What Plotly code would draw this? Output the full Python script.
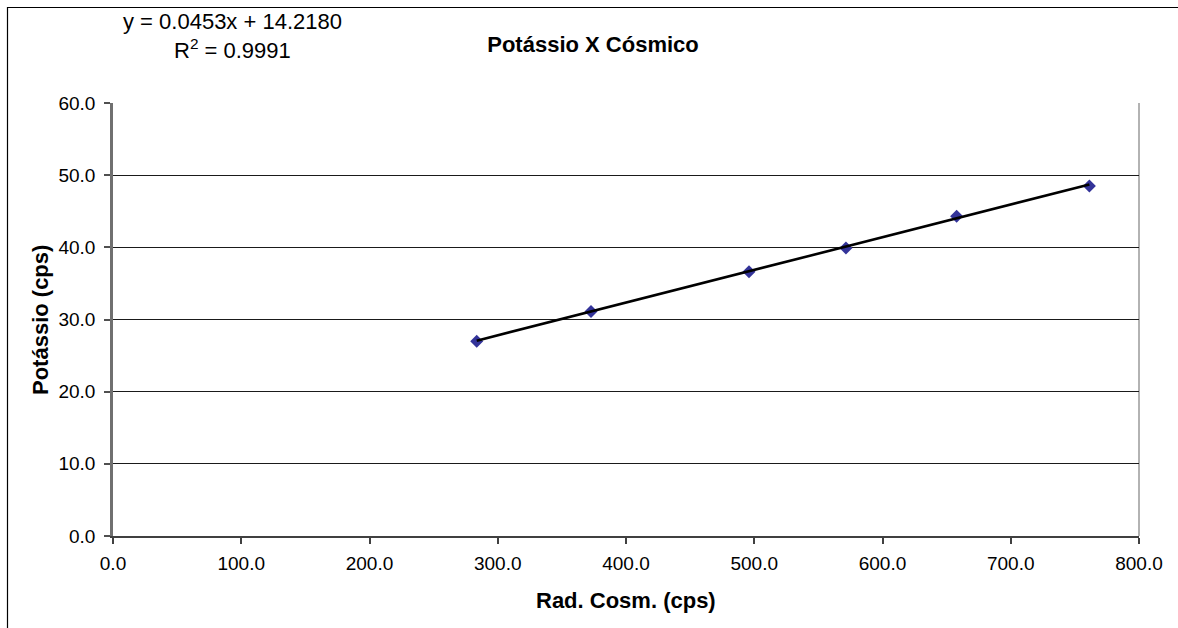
import plotly.graph_objects as go

# Cosmic radiation (cps) vs potassium window count rate (cps)
rad_cosm = [283.6, 372.7, 495.9, 571.5, 657.8, 761.3]
potassio = [27.0, 31.1, 36.6, 39.9, 44.3, 48.5]

# Linear trendline coefficients as printed on the chart
slope = 0.0453
intercept = 14.2180
r_squared = 0.9991

x_ticks = [0, 100, 200, 300, 400, 500, 600, 700, 800]
y_ticks = [0, 10, 20, 30, 40, 50, 60]

W, H = 1178, 628
L, R, T, B = 113, 39, 103, 92
PW, PH = W - L - R, H - T - B


def px_x(p):
    return (p - L) / PW


def px_y(p):
    return (H - B - p) / PH


FONT = "Liberation Sans, Arial, sans-serif"

fig = go.Figure()

fig.add_trace(go.Scatter(
    x=rad_cosm, y=potassio, mode="markers",
    marker=dict(symbol="diamond", size=10, color="#333399",
                line=dict(width=0)),
    showlegend=False, hoverinfo="x+y",
))

trend_x = [min(rad_cosm), max(rad_cosm)]
trend_y = [slope * v + intercept for v in trend_x]
fig.add_trace(go.Scatter(
    x=trend_x, y=trend_y, mode="lines",
    line=dict(color="#000000", width=2.6),
    showlegend=False, hoverinfo="skip",
))

fig.update_layout(
    width=W, height=H,
    margin=dict(l=L, r=R, t=T, b=B, autoexpand=False),
    paper_bgcolor="white", plot_bgcolor="white",
    font=dict(family=FONT, size=19, color="#000000"),
    title=dict(text="<b>Potássio X Cósmico</b>", xref="container", yref="container",
               x=593 / W, y=1 - 44 / H, xanchor="center", yanchor="middle",
               font=dict(family=FONT, size=22, color="#000000")),
    xaxis=dict(range=[0, 800], tickvals=x_ticks,
               ticktext=[f"{v:.1f}" for v in x_ticks],
               showgrid=False, zeroline=False,
               showline=True, linecolor="#404040", linewidth=1.5,
               ticks="outside", ticklen=6, tickcolor="#404040", tickwidth=1.5,
               ticklabelstandoff=3, fixedrange=True),
    yaxis=dict(range=[0, 60], tickvals=y_ticks,
               ticktext=[f"{v:.1f}" for v in y_ticks],
               showgrid=True, gridcolor="#1a1a1a", gridwidth=1,
               zeroline=False,
               showline=True, linecolor="#707070", linewidth=2.5,
               ticks="outside", ticklen=6, tickcolor="#505050", tickwidth=1.5,
               ticklabelstandoff=5, fixedrange=True),
    shapes=[
        # plot area frame (right edge)
        dict(type="line", xref="paper", yref="paper", x0=1, x1=1, y0=0, y1=1,
             line=dict(color="#808080", width=1.2), layer="below"),
        # outer chart border (runs off the page on the right and bottom)
        dict(type="rect", xref="paper", yref="paper",
             x0=px_x(7.5), x1=px_x(W + 20), y0=px_y(H + 20), y1=px_y(7.5),
             line=dict(color="#000000", width=1.2), fillcolor="rgba(0,0,0,0)"),
    ],
    annotations=[
        dict(text="<b>Rad. Cosm. (cps)</b>", xref="paper", yref="paper",
             x=0.5, y=px_y(600), xanchor="center", yanchor="middle",
             showarrow=False, font=dict(family=FONT, size=22)),
        dict(text="<b>Potássio (cps)</b>", xref="paper", yref="paper",
             x=px_x(40), y=px_y(320), xanchor="center", yanchor="middle",
             textangle=-90, showarrow=False, font=dict(family=FONT, size=22)),
        dict(text=f"y = {slope:.4f}x + {intercept:.4f}", xref="paper", yref="paper",
             x=px_x(232), y=px_y(21), xanchor="center", yanchor="middle",
             showarrow=False, font=dict(family=FONT, size=22)),
        dict(text=f"R<sup>2</sup> = {r_squared:.4f}", xref="paper", yref="paper",
             x=px_x(232), y=px_y(49), xanchor="center", yanchor="middle",
             showarrow=False, font=dict(family=FONT, size=22)),
    ],
)

fig.write_html("out.html")
